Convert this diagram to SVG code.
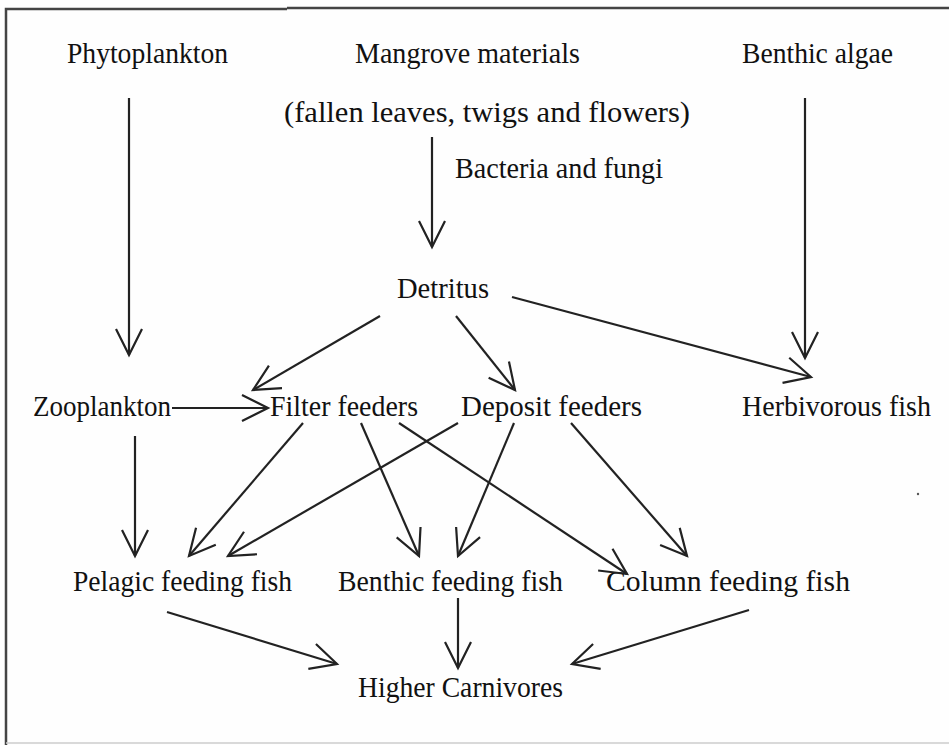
<svg xmlns="http://www.w3.org/2000/svg" width="949" height="745" viewBox="0 0 949 745">
<defs>
<style>
text{font-family:"Liberation Serif","Times New Roman",serif;font-size:29px;fill:#111}
.c line{stroke:#222;stroke-width:2.2;fill:none;marker-end:url(#ah)}
.frame{stroke:#444;stroke-width:2.5;fill:none}
</style>
<marker id="ah" markerUnits="userSpaceOnUse" markerWidth="40" markerHeight="40" viewBox="-30 -20 40 40" refX="0" refY="0" orient="auto">
<path d="M-26,-13 L0,0 L-26,13" fill="none" stroke="#222" stroke-width="2.2"/>
</marker>
</defs>
<rect width="949" height="745" fill="#fefefe"/>
<g id="frame">
<path class="frame" d="M6,745 L6,9 L287,9 M287,8 L949,8"/>
<line x1="6" y1="743" x2="949" y2="743" stroke="#ccc" stroke-width="1.5"/>
<circle cx="918" cy="494" r="1.2" fill="#555"/>
</g>
<g id="phytoplankton"><text x="67" y="63" textLength="161" lengthAdjust="spacingAndGlyphs">Phytoplankton</text></g>
<g id="mangrove"><text x="355" y="63" textLength="225" lengthAdjust="spacingAndGlyphs">Mangrove materials</text><text x="284" y="122" textLength="406" lengthAdjust="spacingAndGlyphs">(fallen leaves, twigs and flowers)</text></g>
<g id="benthic-algae"><text x="742" y="63" textLength="151" lengthAdjust="spacingAndGlyphs">Benthic algae</text></g>
<g id="bacteria-label"><text x="455" y="178" textLength="208" lengthAdjust="spacingAndGlyphs">Bacteria and fungi</text></g>
<g id="detritus"><text x="397" y="298" textLength="92" lengthAdjust="spacingAndGlyphs">Detritus</text></g>
<g id="zooplankton"><text x="33" y="416" textLength="138" lengthAdjust="spacingAndGlyphs">Zooplankton</text></g>
<g id="filter-feeders"><text x="270" y="416" textLength="148" lengthAdjust="spacingAndGlyphs">Filter feeders</text></g>
<g id="deposit-feeders"><text x="461" y="416" textLength="181" lengthAdjust="spacingAndGlyphs">Deposit feeders</text></g>
<g id="herbivorous-fish"><text x="742" y="416" textLength="189" lengthAdjust="spacingAndGlyphs">Herbivorous fish</text></g>
<g id="pelagic-fish"><text x="73" y="591" textLength="219" lengthAdjust="spacingAndGlyphs">Pelagic feeding fish</text></g>
<g id="benthic-fish"><text x="338" y="591" textLength="225" lengthAdjust="spacingAndGlyphs">Benthic feeding fish</text></g>
<g id="column-fish"><text x="606" y="591" textLength="244" lengthAdjust="spacingAndGlyphs">Column feeding fish</text></g>
<g id="higher-carnivores"><text x="358" y="697" textLength="205" lengthAdjust="spacingAndGlyphs">Higher Carnivores</text></g>
<g id="connectors" class="c">
<line x1="129" y1="98" x2="129" y2="355"/>
<line x1="805" y1="98" x2="805" y2="358"/>
<line x1="432" y1="137" x2="432" y2="247"/>
<line x1="380" y1="316" x2="253" y2="390"/>
<line x1="456" y1="316" x2="515" y2="390"/>
<line x1="512" y1="297" x2="811" y2="377"/>
<line x1="172" y1="408" x2="268" y2="408"/>
<line x1="135" y1="436" x2="135" y2="556"/>
<line x1="303" y1="423" x2="189" y2="556"/>
<line x1="458" y1="423" x2="228" y2="556"/>
<line x1="361" y1="423" x2="419" y2="556"/>
<line x1="514" y1="423" x2="458" y2="556"/>
<line x1="399" y1="423" x2="627" y2="574"/>
<line x1="571" y1="423" x2="687" y2="556"/>
<line x1="167" y1="612" x2="337" y2="664"/>
<line x1="458" y1="598" x2="458" y2="668"/>
<line x1="749" y1="610" x2="572" y2="664"/>
</g>
</svg>
